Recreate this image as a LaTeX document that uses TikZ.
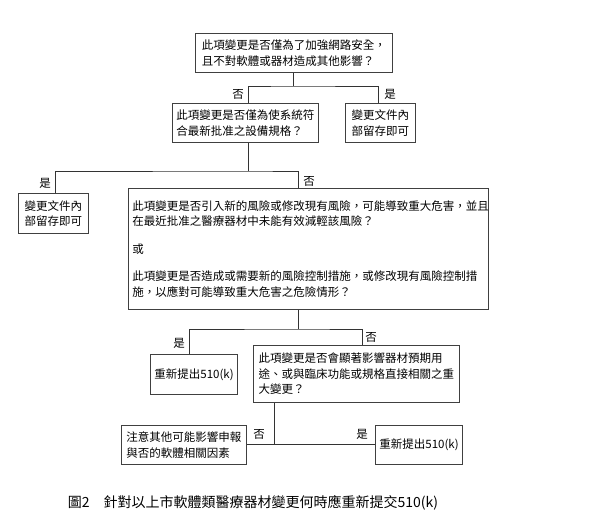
\documentclass[tikz,border=0pt]{standalone}
\usepackage{fontspec}
\newfontfamily\cjk{Noto Sans CJK TC}
\usetikzlibrary{positioning}

\begin{document}
\begin{tikzpicture}[x=1pt,y=-1pt,
  qbox/.style={draw, thick, draw=black!75, anchor=north west, align=left, inner sep=4pt,
               font=\cjk\fontsize{11.5}{15.5}\selectfont},
  lab/.style={font=\cjk\fontsize{11.5}{13}\selectfont},
  link/.style={draw=black!80, thick}]
\useasboundingbox (0,0) rectangle (600,532);

% Questions
\node[qbox, minimum width=197pt, minimum height=39pt] (Q1) at (195,33)
  {此項變更是否僅為了加強網路安全，\\且不對軟體或器材造成其他影響？};
\node[qbox, minimum width=141pt, minimum height=39pt] (Q2) at (172,103)
  {此項變更是否僅為使系統符\\合最新批准之設備規格？};
\node[qbox, minimum width=70pt, minimum height=39pt] (K1) at (345,103)
  {變更文件內\\部留存即可};
\node[qbox, minimum width=70pt, minimum height=40pt] (K2) at (18,193)
  {變更文件內\\部留存即可};
\node[qbox, minimum width=360pt, minimum height=121pt, text width=352pt] (Q3) at (128,188)
  {此項變更是否引入新的風險或修改現有風險，可能導致重大危害，並且\\在最近批准之醫療器材中未能有效減輕該風險？\\[12pt]或\\[12pt]此項變更是否造成或需要新的風險控制措施，或修改現有風險控制措\\施，以應對可能導致重大危害之危險情形？};
\node[qbox, minimum width=83pt, minimum height=40pt] (R1) at (150,354)
  {重新提出510(k)};
\node[qbox, minimum width=206pt, minimum height=57pt] (Q4) at (253,345)
  {此項變更是否會顯著影響器材預期用\\途、或與臨床功能或規格直接相關之重\\大變更？};
\node[qbox, minimum width=125pt, minimum height=39pt] (N1) at (121,425)
  {注意其他可能影響申報\\與否的軟體相關因素};
\node[qbox, minimum width=83pt, minimum height=39pt] (R2) at (375,425)
  {重新提出510(k)};

% Branches
\coordinate (s1) at (293,86);
\draw[link] (Q1.south -| s1) -- (s1) (Q2.north -| 248,0) |- (s1) -| (K1.north -| 378,0);
\node[lab] at (238,94) {否};
\node[lab] at (390,94) {是};

\coordinate (s2) at (248,171);
\draw[link] (Q2.south -| s2) -- (s2) (K2.north -| 55,0) |- (s2) -| (Q3.north -| 298,0);
\node[lab] at (45,183) {是};
\node[lab] at (309,181) {否};

\coordinate (s3) at (298,329);
\draw[link] (Q3.south -| s3) -- (s3) (R1.north -| 189,0) |- (s3) -| (Q4.north -| 362,0);
\node[lab] at (179,343) {是};
\node[lab] at (371,337) {否};

\coordinate (s4) at (274,444);
\draw[link] (Q4.south -| s4) -- (s4) (N1.east |- s4) -- (R2.west |- s4);
\node[lab] at (259,434) {否};
\node[lab] at (362,434) {是};

% Caption
\node[font=\cjk\fontsize{14}{16}\selectfont] (cap) at (253,503)
  {圖2\quad 針對以上市軟體類醫療器材變更何時應重新提交510(k)};
\end{tikzpicture}
\end{document}
